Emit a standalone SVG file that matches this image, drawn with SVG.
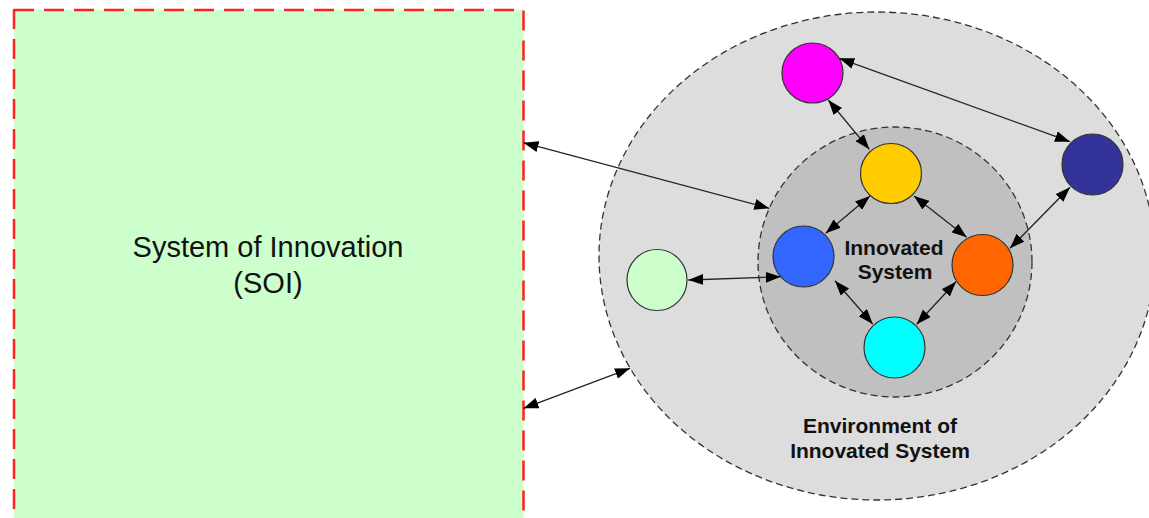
<svg xmlns="http://www.w3.org/2000/svg" width="1149" height="518" viewBox="0 0 1149 518">
  <style>
    .node { stroke: #333333; stroke-width: 1.2; }
    .conn { stroke: #222222; stroke-width: 1.3; fill: none; marker-start: url(#ah); marker-end: url(#ah); }
    .reg { font-family: "Liberation Sans", Arial, sans-serif; font-size: 29px; fill: #111111; text-anchor: middle; }
    .bold { font-family: "Liberation Sans", Arial, sans-serif; font-size: 21px; font-weight: bold; fill: #111111; text-anchor: middle; }
  </style>
  <defs>
    <marker id="ah" viewBox="0 0 15 11" refX="15" refY="5.5" markerWidth="15" markerHeight="11" markerUnits="userSpaceOnUse" orient="auto-start-reverse">
      <path d="M0,0 L15,5.5 L0,11 z" fill="#000000"/>
    </marker>
  </defs>
  <rect width="1149" height="518" fill="#ffffff"/>

  <g id="soi">
    <rect x="14" y="10" width="509.5" height="520" fill="#ccffcc" stroke="#ff2222" stroke-width="2.5" stroke-dasharray="20 10" stroke-linejoin="round"/>
    <text class="reg" x="268" y="257">System of Innovation</text>
    <text class="reg" x="268" y="293">(SOI)</text>
  </g>

  <g id="environment">
    <ellipse cx="877" cy="256" rx="278" ry="244" fill="#dddddd" stroke="#333333" stroke-width="1.3" stroke-dasharray="7 4"/>
    <text class="bold" x="880" y="433">Environment of</text>
    <text class="bold" x="880" y="458">Innovated System</text>
  </g>

  <g id="innovated-system">
    <ellipse cx="895" cy="262" rx="137" ry="135" fill="#c0c0c0" stroke="#333333" stroke-width="1.3" stroke-dasharray="7 4"/>
    <text class="bold" x="894" y="255">Innovated</text>
    <text class="bold" x="895" y="279">System</text>
  </g>

  <g id="node-magenta"><ellipse class="node" cx="812.5" cy="73" rx="30.5" ry="30" fill="#ff00ff"/></g>
  <g id="node-yellow"><ellipse class="node" cx="891" cy="173.5" rx="30.5" ry="30" fill="#ffcc00"/></g>
  <g id="node-navy"><ellipse class="node" cx="1092.5" cy="164.5" rx="30.5" ry="30.5" fill="#333399"/></g>
  <g id="node-blue"><ellipse class="node" cx="803.5" cy="256.5" rx="30.5" ry="30.5" fill="#3366ff"/></g>
  <g id="node-orange"><ellipse class="node" cx="982.5" cy="265" rx="30.5" ry="30.5" fill="#ff6600"/></g>
  <g id="node-lightgreen"><ellipse class="node" cx="657" cy="280" rx="30" ry="30.5" fill="#ccffcc"/></g>
  <g id="node-cyan"><ellipse class="node" cx="894.5" cy="347.5" rx="30.5" ry="30.5" fill="#00ffff"/></g>

  <g id="connectors">
    <line class="conn" x1="523.5" y1="142.7" x2="769.3" y2="208.3"/>
    <line class="conn" x1="523.5" y1="408.3" x2="630" y2="368.3"/>
    <line class="conn" x1="839.3" y1="58.3" x2="1070" y2="141.7"/>
    <line class="conn" x1="828.3" y1="100" x2="869.3" y2="149.3"/>
    <line class="conn" x1="870" y1="196" x2="825.7" y2="233.3"/>
    <line class="conn" x1="914" y1="196" x2="966.7" y2="237.3"/>
    <line class="conn" x1="1070" y1="187.3" x2="1010" y2="248.3"/>
    <line class="conn" x1="688.3" y1="280" x2="780.7" y2="276.7"/>
    <line class="conn" x1="835" y1="280.7" x2="872.7" y2="324"/>
    <line class="conn" x1="956" y1="281.7" x2="916.7" y2="324.3"/>
  </g>
</svg>
